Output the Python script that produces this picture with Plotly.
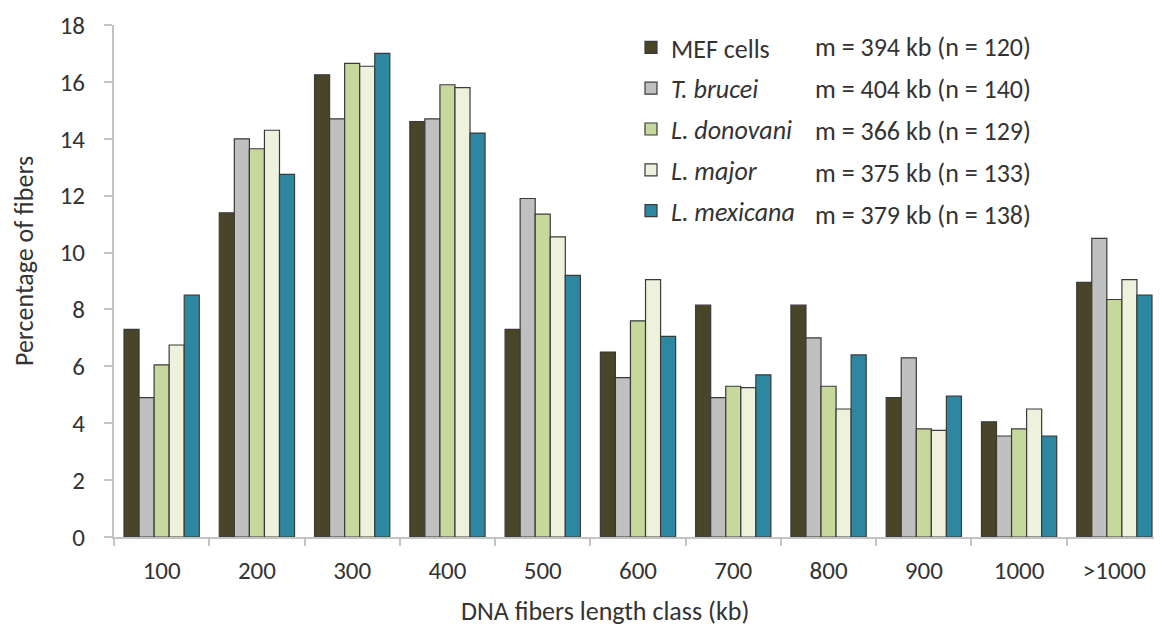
import plotly.graph_objects as go

categories = ["100", "200", "300", "400", "500", "600", "700", "800", "900", "1000", ">1000"]
series_names = ["MEF cells", "<i>T. brucei</i>", "<i>L. donovani</i>", "<i>L. major</i>", "<i>L. mexicana</i>"]
series_stats = ["m = 394 kb (n = 120)", "m = 404 kb (n = 140)", "m = 366 kb (n = 129)",
                "m = 375 kb (n = 133)", "m = 379 kb (n = 138)"]
mef = [7.3, 11.4, 16.25, 14.6, 7.3, 6.5, 8.15, 8.15, 4.9, 4.05, 8.95]
tbrucei = [4.9, 14.0, 14.7, 14.7, 11.9, 5.6, 4.9, 7.0, 6.3, 3.55, 10.5]
ldonovani = [6.05, 13.65, 16.65, 15.9, 11.35, 7.6, 5.3, 5.3, 3.8, 3.8, 8.35]
lmajor = [6.75, 14.3, 16.55, 15.8, 10.55, 9.05, 5.25, 4.5, 3.75, 4.5, 9.05]
lmexicana = [8.5, 12.75, 17.0, 14.2, 9.2, 7.05, 5.7, 6.4, 4.95, 3.55, 8.5]
y_ticks = [0, 2, 4, 6, 8, 10, 12, 14, 16, 18]

series_values = [mef, tbrucei, ldonovani, lmajor, lmexicana]
colors = ["#4a4428", "#c0c0c0", "#c6d89c", "#eef2dc", "#2e87a0"]

FONT = "Carlito, Open Sans, Liberation Sans, sans-serif"
TEXT = "#333333"

# figure geometry (page adds ~8px body margin)
W, H = 1154, 622
L, R, T, B = 106, 0, 17, 93
PW, PH = W - L - R, H - T - B


def px(xf):
    return (xf - L) / PW


def py(yf):
    return (H - B - yf) / PH


fig = go.Figure()
for i, (name, vals, col) in enumerate(zip(series_names, series_values, colors)):
    fig.add_trace(go.Bar(
        x=categories, y=vals, name=name, legendgroup=f"g{i}",
        marker=dict(color=col, line=dict(color="#3a3a3a", width=1.2)),
    ))

row_px = 42
for i, txt in enumerate(series_stats):
    fig.add_annotation(
        xref="paper", yref="paper",
        x=px(805), y=py(39 + i * row_px),
        text=txt, showarrow=False, xanchor="left", yanchor="middle",
        font=dict(family=FONT, size=26, color=TEXT),
    )

fig.add_annotation(
    xref="paper", yref="paper", x=px(16), y=py(253),
    text="Percentage of fibers", textangle=-90, showarrow=False,
    xanchor="center", yanchor="middle",
    font=dict(family=FONT, size=26, color=TEXT),
)
fig.add_annotation(
    xref="paper", yref="paper", x=px(597), y=py(603),
    text="DNA fibers length class (kb)", showarrow=False,
    xanchor="center", yanchor="middle",
    font=dict(family=FONT, size=26, color=TEXT),
)

fig.update_layout(
    width=W, height=H,
    margin=dict(l=L, r=R, t=T, b=B),
    paper_bgcolor="white", plot_bgcolor="white",
    barmode="group", bargap=0.21, bargroupgap=0,
    font=dict(family=FONT, size=25, color=TEXT),
    legend=dict(
        x=px(623), y=py(16), xanchor="left", yanchor="top",
        font=dict(family=FONT, size=26, color=TEXT),
        tracegroupgap=4, bgcolor="rgba(0,0,0,0)",
        itemwidth=30,
    ),
    xaxis=dict(
        type="category", showline=True, linecolor="#c4c4c4", linewidth=2,
        ticks="outside", tickson="boundaries", tickcolor="#c4c4c4", ticklen=7, tickwidth=1.5,
        ticklabelstandoff=10,
        tickfont=dict(family=FONT, size=25, color=TEXT),
        showgrid=False,
    ),
    yaxis=dict(
        range=[0, 18], tickvals=y_ticks, showline=True, linecolor="#c4c4c4", linewidth=2,
        ticks="outside", tickcolor="#c4c4c4", ticklen=8, tickwidth=1.5,
        ticklabelstandoff=14,
        tickfont=dict(family=FONT, size=25, color=TEXT),
        showgrid=False, zeroline=False,
    ),
)

fig.write_html("out.html")
